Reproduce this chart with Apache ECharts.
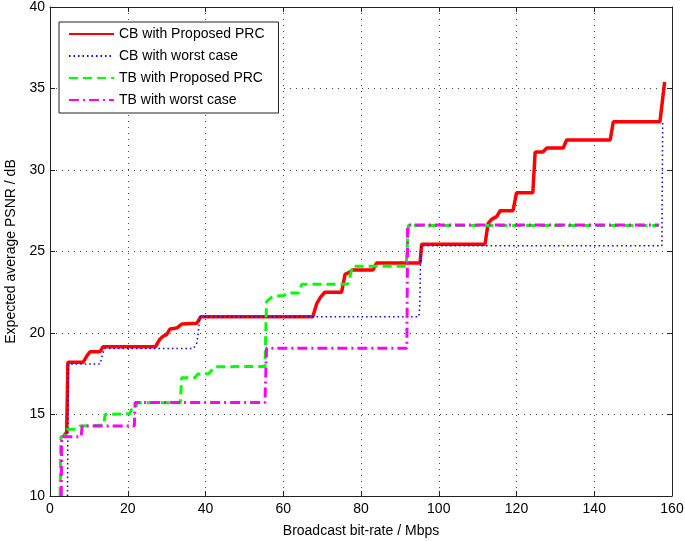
<!DOCTYPE html>
<html><head><meta charset="utf-8">
<script src="https://cdn.jsdelivr.net/npm/echarts@6/dist/echarts.min.js"></script>
<style>html,body{margin:0;padding:0;background:#fff}#c{width:685px;height:541px}</style>
</head><body><div id="c"></div><script>
const seriesNames = ['CB with Proposed PRC', 'CB with worst case', 'TB with Proposed PRC', 'TB with worst case'];
const xTicks = [0, 20, 40, 60, 80, 100, 120, 140, 160];
const yTicks = [10, 15, 20, 25, 30, 35, 40];

const cbPropX = [3.6, 4.3, 4.6, 8.5, 9.5, 10.3, 12.9, 13.6, 27.1, 28.2, 29.1, 30.0, 30.9, 32.6, 33.9, 37.8, 38.8, 67.6, 68.6, 69.6, 70.7, 75.0, 75.9, 77.2, 77.8, 83.1, 84.0, 95.2, 95.6, 111.9, 112.7, 113.6, 114.9, 115.8, 119.1, 120.0, 124.2, 124.8, 126.8, 127.8, 132.0, 132.9, 144.1, 144.9, 156.9, 158.1];
const cbPropY = [13.7, 13.9, 18.2, 18.2, 18.6, 18.85, 18.85, 19.15, 19.15, 19.6, 19.8, 19.9, 20.25, 20.3, 20.55, 20.6, 21.0, 21.0, 21.8, 22.2, 22.5, 22.5, 23.6, 23.75, 23.87, 23.87, 24.3, 24.3, 25.45, 25.45, 26.73, 26.97, 27.14, 27.5, 27.5, 28.6, 28.6, 31.1, 31.1, 31.35, 31.35, 31.84, 31.84, 32.96, 32.96, 35.4];

const cbWorstX = [4.5, 4.7, 12.9, 13.4, 14.0, 36.9, 37.8, 38.6, 94.9, 95.1, 95.4, 157.4, 157.6];
const cbWorstY = [10.0, 18.1, 18.1, 18.6, 19.05, 19.05, 19.4, 21.0, 21.0, 21.6, 25.35, 25.35, 32.9];

const tbPropX = [2.6, 2.8, 3.8, 4.3, 6.9, 7.8, 13.8, 14.2, 20.5, 21.0, 22.0, 22.4, 33.5, 33.9, 37.3, 38.0, 40.8, 42.4, 55.3, 55.7, 57.1, 58.0, 60.2, 61.2, 63.9, 64.8, 76.6, 77.2, 77.8, 91.6, 92.2, 156.6];
const tbPropY = [10.0, 13.64, 13.7, 14.1, 14.1, 14.3, 14.35, 15.0, 15.05, 15.3, 15.35, 15.72, 15.72, 17.26, 17.26, 17.48, 17.5, 17.93, 17.95, 21.92, 22.2, 22.27, 22.3, 22.45, 22.45, 22.99, 23.0, 23.5, 24.1, 24.1, 26.6, 26.6];

const tbWorstX = [2.9, 3.0, 8.0, 8.3, 21.7, 21.9, 55.3, 55.7, 91.8, 92.0, 156.6];
const tbWorstY = [10.0, 13.64, 13.64, 14.3, 14.3, 15.73, 15.73, 19.06, 19.06, 26.62, 26.62];

function zip(xs, ys) { return xs.map((x, i) => [x, ys[i]]); }

const FONT = 'Liberation Sans';
const chart = echarts.init(document.getElementById('c'), null, { renderer: 'canvas' });

const axisCommon = {
  type: 'value',
  axisLine: { show: true, onZero: false, lineStyle: { color: '#222', width: 1 } },
  axisTick: { show: true, inside: true, length: 5, lineStyle: { color: '#222' } },
};

chart.setOption({
  animation: false,
  backgroundColor: '#fff',
  grid: { left: 50, right: 13, top: 7, bottom: 45, show: false, containLabel: false, outerBoundsMode: 'none' },
  legend: {
    show: true,
    orient: 'vertical',
    left: 59, top: 22,
    padding: [5, 14, 6, 9],
    itemWidth: 45, itemHeight: 14, itemGap: 8,
    backgroundColor: '#fff',
    borderColor: '#222', borderWidth: 1, borderRadius: 0,
    itemStyle: { opacity: 0 },
    textStyle: { fontFamily: FONT, fontSize: 14, color: '#000' },
    data: seriesNames
  },
  xAxis: [
    Object.assign({}, axisCommon, {
      min: xTicks[0], max: xTicks[xTicks.length - 1], interval: 20, position: 'bottom',
      name: 'Broadcast bit-rate / Mbps', nameLocation: 'middle', nameGap: 28,
      nameTextStyle: { fontFamily: FONT, fontSize: 14, color: '#000' },
      axisLabel: { margin: 6, fontFamily: FONT, fontSize: 14, color: '#000' },
      splitLine: { show: true, lineStyle: { color: '#444', width: 1, type: [1, 5] } }
    }),
    Object.assign({}, axisCommon, {
      min: xTicks[0], max: xTicks[xTicks.length - 1], interval: 20, position: 'top',
      axisLabel: { show: false }, splitLine: { show: false }
    })
  ],
  yAxis: [
    Object.assign({}, axisCommon, {
      min: yTicks[0], max: yTicks[yTicks.length - 1], interval: 5, position: 'left',
      name: 'Expected average PSNR / dB', nameLocation: 'middle', nameGap: 31,
      nameTextStyle: { fontFamily: FONT, fontSize: 14, color: '#000' },
      axisLabel: { margin: 5, fontFamily: FONT, fontSize: 14, color: '#000' },
      splitLine: { show: true, lineStyle: { color: '#444', width: 1, type: [1, 5] } }
    }),
    Object.assign({}, axisCommon, {
      min: yTicks[0], max: yTicks[yTicks.length - 1], interval: 5, position: 'right',
      axisLabel: { show: false }, splitLine: { show: false }
    })
  ],
  series: [
    { name: seriesNames[0], type: 'line', symbol: 'none', data: zip(cbPropX, cbPropY),
      lineStyle: { color: '#ff0000', width: 3.5, type: 'solid' }, itemStyle: { color: '#ff0000' } },
    { name: seriesNames[1], type: 'line', symbol: 'none', data: zip(cbWorstX, cbWorstY),
      lineStyle: { color: '#0000ff', width: 1.5, type: [1.5, 3] }, itemStyle: { color: '#0000ff' } },
    { name: seriesNames[2], type: 'line', symbol: 'none', data: zip(tbPropX, tbPropY),
      lineStyle: { color: '#00ff00', width: 3, type: [9, 5] }, itemStyle: { color: '#00ff00' } },
    { name: seriesNames[3], type: 'line', symbol: 'none', data: zip(tbWorstX, tbWorstY),
      lineStyle: { color: '#ff00ff', width: 3, type: [10, 4, 2, 4] }, itemStyle: { color: '#ff00ff' } }
  ]
});
</script></body></html>
